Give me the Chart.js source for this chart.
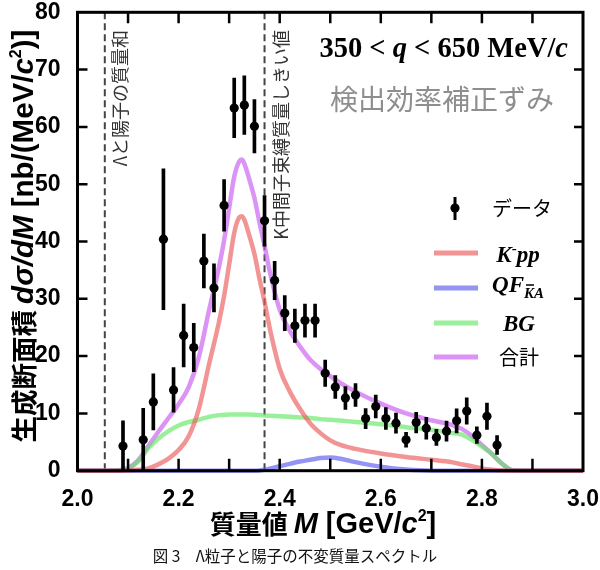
<!DOCTYPE html>
<html><head><meta charset="utf-8">
<script src="https://cdn.jsdelivr.net/npm/chart.js@4.4.0/dist/chart.umd.min.js"></script>
<style>html,body{margin:0;padding:0;background:#fff;}#wrap{width:600px;height:570px;}</style>
</head><body><div id="wrap"><canvas id="c" width="600" height="570"></canvas></div>
<script>
// ---- data ----
const dataMass = [2.09,2.13,2.15,2.17,2.19,2.21,2.23,2.25,2.27,2.29,2.31,2.33,2.35,2.37,2.39,2.41,2.43,2.45,2.47,2.49,2.51,2.53,2.55,2.57,2.59,2.61,2.63,2.65,2.67,2.69,2.71,2.73,2.75,2.77,2.79,2.81,2.83];
const dataValue = [4.3,5.4,12.0,40.4,14.1,23.6,21.5,36.6,31.9,46.3,63.3,63.8,60.1,43.6,33.2,27.5,25.3,26.2,26.2,17.0,14.6,12.7,13.2,9.1,11.2,9.1,8.3,5.4,8.4,7.4,5.8,6.9,8.7,10.4,6.2,9.5,4.5];
const dataError = [4.4,5.5,4.9,12.3,3.9,5.5,4.2,4.7,4.2,4.5,5.2,5.1,4.65,4.4,3.35,3.05,2.9,2.9,2.9,2.3,2.0,2.0,2.0,1.75,2.0,1.9,1.75,1.3,1.8,1.9,1.4,1.75,2.1,2.3,1.45,2.3,1.65];

const curveMass = [2.00,2.06,2.08,2.10,2.12,2.14,2.16,2.18,2.20,2.22,2.24,2.26,2.28,2.29,2.30,2.31,2.32,2.325,2.33,2.34,2.35,2.36,2.37,2.38,2.40,2.42,2.44,2.46,2.48,2.50,2.52,2.55,2.60,2.65,2.70,2.74,2.76,2.78,2.80,2.82,2.84,2.86,2.90,3.00];
const kppCurve = [0,0,0,0.05,0.15,0.4,1.1,2.1,3.6,6.0,10.8,18.5,26.0,30.5,36.0,41.5,44.2,44.4,43.8,41.0,37.8,33.5,29.5,25.0,17.8,13.8,10.8,8.3,6.6,5.3,4.5,3.8,3.0,2.4,1.9,1.5,1.1,0.8,0.4,0.15,0.02,0,0,0];
const qfCurve  = [0,0,0,0,0,0,0,0,0,0,0,0,0,0,0,0,0,0,0,0,0,0.05,0.15,0.35,0.8,1.2,1.6,1.9,2.2,2.3,2.1,1.5,0.7,0.2,0,0,0,0,0,0,0,0,0,0];
const bgCurve  = [0,0,0.05,0.4,1.6,3.9,5.6,6.9,7.9,8.5,8.9,9.4,9.7,9.75,9.8,9.8,9.8,9.8,9.8,9.8,9.75,9.7,9.65,9.6,9.5,9.4,9.3,9.2,9.0,8.9,8.75,8.5,8.1,7.6,7.1,6.6,6.3,5.4,4.2,2.9,1.2,0.1,0,0];
const totalCurve = [0,0,0.05,0.45,1.8,4.3,6.8,9.2,11.6,14.6,19.8,27.9,35.6,40.2,45.8,51.3,54.0,54.3,53.6,50.8,47.6,43.3,39.3,34.9,28.1,24.4,21.7,19.4,17.8,16.5,15.3,13.8,11.7,10.0,8.8,8.0,7.3,6.1,4.5,2.9,1.2,0.1,0,0];

const thresholdLines = [2.054, 2.370];
const xTickLabels = [2.0,2.2,2.4,2.6,2.8,3.0];
const xTickMarks = [2.1,2.2,2.3,2.4,2.5,2.6,2.7,2.8,2.9];
const yTickMarks = [10,20,30,40,50,60,70];

const COL = {
  kpp:'rgba(235,90,90,0.65)', qf:'rgba(90,90,240,0.65)',
  bg:'rgba(100,230,100,0.65)', total:'rgba(200,90,240,0.65)'
};
const SANS = '"Liberation Sans", Arial, sans-serif';
const SERIF = '"Liberation Serif", "Times New Roman", serif';
const CJK = '"Noto Sans CJK JP", sans-serif';

function pts(xs, ys){ return xs.map((x,i)=>({x:x, y:ys[i]})); }
function curve(label, ys, color){
  return {type:'line', label:label, data:pts(curveMass, ys), borderColor:color, borderWidth:4.5,
    pointRadius:0, fill:false, cubicInterpolationMode:'monotone', borderJoinStyle:'round', clip:3};
}

function drawRuns(ctx, runs, x, y, align){
  let w = 0;
  runs.forEach(r=>{ctx.font=r.f; r.w=ctx.measureText(r.t).width; w+=r.w;});
  let cx = align==='center' ? x-w/2 : (align==='right' ? x-w : x);
  runs.forEach(r=>{ctx.font=r.f; ctx.fillText(r.t, cx, y+(r.dy||0)); r.x=cx; cx+=r.w;});
  return runs;
}
function noPad(s){ s.paddingLeft=0; s.paddingRight=0; s.paddingTop=0; s.paddingBottom=0; }

const decor = {
  id:'decor',
  beforeDatasetsDraw(chart){
    const {ctx, chartArea:a, scales:{x}} = chart;
    ctx.save();
    ctx.strokeStyle='#444'; ctx.lineWidth=2; ctx.setLineDash([7,4]);
    thresholdLines.forEach(v=>{const px=x.getPixelForValue(v); ctx.beginPath(); ctx.moveTo(px,a.top); ctx.lineTo(px,a.bottom); ctx.stroke();});
    ctx.setLineDash([]);
    ctx.fillStyle='#333'; ctx.font='18px '+CJK; ctx.textBaseline='middle'; ctx.textAlign='right';
    [[x.getPixelForValue(thresholdLines[0])+15,'Λと陽子の質量和'],[x.getPixelForValue(thresholdLines[1])+17,'K中間子束縛質量しきい値']].forEach(([px,t])=>{
      ctx.save(); ctx.translate(px, 30); ctx.rotate(-Math.PI/2); ctx.fillText(t,0,0); ctx.restore();
    });
    ctx.restore();
  },
  afterDatasetsDraw(chart){
    const {ctx, chartArea:a, scales:{x, y}} = chart;
    ctx.save();
    ctx.strokeStyle='#000'; ctx.lineWidth=3;
    ctx.strokeRect(a.left, a.top, a.right-a.left, a.bottom-a.top);
    ctx.lineWidth=2.5;
    xTickMarks.forEach(v=>{const px=x.getPixelForValue(v); ctx.beginPath();
      ctx.moveTo(px,a.bottom); ctx.lineTo(px,a.bottom-12); ctx.moveTo(px,a.top); ctx.lineTo(px,a.top+11); ctx.stroke();});
    yTickMarks.forEach(v=>{const py=y.getPixelForValue(v); ctx.beginPath();
      ctx.moveTo(a.left,py); ctx.lineTo(a.left+10,py); ctx.moveTo(a.right,py); ctx.lineTo(a.right-9,py); ctx.stroke();});
    ctx.restore();
  },
  afterDraw(chart){
    const {ctx} = chart;
    ctx.save();
    ctx.fillStyle='#000'; ctx.textBaseline='alphabetic'; ctx.textAlign='left';
    drawRuns(ctx,[{t:'350 < ',f:'bold 28.5px '+SERIF},{t:'q',f:'italic bold 28.5px '+SERIF},{t:' < 650 MeV/',f:'bold 28.5px '+SERIF},{t:'c',f:'italic bold 28.5px '+SERIF}],568,57,'right');
    ctx.fillStyle='#8e8e8e'; ctx.font='28px '+CJK; ctx.textAlign='center'; ctx.textBaseline='middle';
    ctx.fillText('検出効率補正ずみ', 442, 99);
    // legend
    ctx.fillStyle='#000'; ctx.strokeStyle='#000'; ctx.lineWidth=3;
    ctx.beginPath(); ctx.moveTo(455,197); ctx.lineTo(455,220); ctx.stroke();
    ctx.beginPath(); ctx.arc(455,208,4.6,0,Math.PI*2); ctx.fill();
    ctx.font='20px '+CJK; ctx.textAlign='left'; ctx.fillText('データ',492,208);
    const ly=[253,288,323,357]; const lc=[COL.kpp,COL.qf,COL.bg,COL.total];
    ctx.lineWidth=5;
    ly.forEach((yy,i)=>{ctx.strokeStyle=lc[i]; ctx.beginPath(); ctx.moveTo(434,yy); ctx.lineTo(478,yy); ctx.stroke();});
    ctx.textBaseline='alphabetic'; ctx.textAlign='left'; ctx.fillStyle='#000';
    drawRuns(ctx,[{t:'K',f:'italic bold 23px '+SERIF},{t:'-',f:'bold 15px '+SERIF,dy:-9},{t:'pp',f:'italic bold 23px '+SERIF}],518,262,'center');
    const q = drawRuns(ctx,[{t:'QF',f:'italic bold 23px '+SERIF},{t:'KA',f:'italic bold 15px '+SERIF,dy:6}],518,292,'center');
    ctx.lineWidth=1.5; ctx.strokeStyle='#000'; ctx.beginPath(); const kx=q[1].x; ctx.moveTo(kx+2,285); ctx.lineTo(kx+10,285); ctx.stroke();
    drawRuns(ctx,[{t:'BG',f:'italic bold 23px '+SERIF}],519,331,'center');
    ctx.font='20px '+CJK; ctx.textAlign='center'; ctx.textBaseline='middle'; ctx.fillText('合計',519,357);
    // axis titles
    ctx.textAlign='left'; ctx.textBaseline='alphabetic';
    drawRuns(ctx,[{t:'質量値 ',f:'bold 26px '+CJK,dy:1},{t:'M',f:'italic bold 29px '+SANS},{t:' [GeV/',f:'bold 29px '+SANS},{t:'c',f:'italic bold 29px '+SANS},{t:'2',f:'bold 16px '+SANS,dy:-12},{t:']',f:'bold 29px '+SANS}],323,533,'center');
    ctx.save(); ctx.translate(22,236); ctx.rotate(-Math.PI/2);
    drawRuns(ctx,[{t:'生成断面積 ',f:'bold 26.5px '+CJK,dy:1},{t:'dσ/dM',f:'italic bold 29.5px '+SANS},{t:' [nb/(MeV/',f:'bold 29.5px '+SANS},{t:'c',f:'italic bold 29.5px '+SANS},{t:'2',f:'bold 16px '+SANS,dy:-12},{t:')]',f:'bold 29.5px '+SANS}],0,11,'center');
    ctx.restore();
    ctx.font='15.5px '+CJK; ctx.textAlign='center'; ctx.textBaseline='middle'; ctx.fillStyle='#111';
    ctx.fillText('図 3　Λ粒子と陽子の不変質量スペクトル',295,556);
    ctx.restore();
  }
};

new Chart(document.getElementById('c').getContext('2d'), {
  type:'line',
  data:{datasets:[
    {type:'scatter', label:'データ', data:pts(dataMass,dataValue), pointRadius:4.6, pointHoverRadius:4.6, pointBackgroundColor:'#000', pointBorderWidth:0, showLine:false},
    {type:'bar', label:'err', data:dataMass.map((x,i)=>({x:x, y:[dataValue[i]-dataError[i], dataValue[i]+dataError[i]]})), backgroundColor:'#000', barThickness:3, grouped:false, borderWidth:0},
    curve('K-pp', kppCurve, COL.kpp),
    curve('QF', qfCurve, COL.qf),
    curve('BG', bgCurve, COL.bg),
    curve('合計', totalCurve, COL.total)
  ]},
  options:{
    responsive:false, devicePixelRatio:1, animation:false,
    layout:{padding:{left:0, top:12.3, right:17, bottom:0}},
    plugins:{legend:{display:false}, tooltip:{enabled:false}},
    scales:{
      x:{type:'linear', min:2.0, max:3.0, offset:false,
        afterBuildTicks:s=>{s.ticks = xTickLabels.map(v=>({value:v}));},
        ticks:{autoSkip:false, maxRotation:0, minRotation:0, padding:9, color:'#000',
          font:{family:SANS, size:23, weight:'bold', lineHeight:1}, callback:v=>Number(v).toFixed(1)},
        grid:{display:false}, border:{display:false},
        afterFit:s=>{s.height=99.3; noPad(s);}},
      y:{type:'linear', min:0, max:80,
        ticks:{stepSize:10, padding:9, color:'#000', font:{family:SANS, size:23, weight:'bold', lineHeight:1}},
        grid:{display:false}, border:{display:false},
        afterFit:s=>{s.width=77.5; noPad(s);}}
    }
  },
  plugins:[decor]
});
</script></body></html>
